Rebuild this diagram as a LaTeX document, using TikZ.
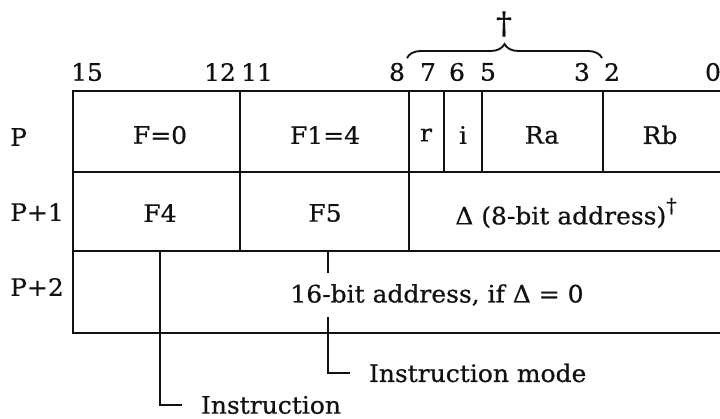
\documentclass[tikz,border=0pt]{standalone}
\usepackage{fontspec}
\setmainfont{DejaVu Serif}[FakeStretch=1.04, FakeBold=0.6]
\usetikzlibrary{decorations.pathreplacing,calc}
\definecolor{ink}{HTML}{111111}

\begin{document}
\begin{tikzpicture}[x=0.03cm, y=-0.03cm,
    rule/.style={ink, line width=1.2pt},
    txt/.style={ink, font=\fontsize{20.5}{24}\selectfont, inner sep=0pt},
    lead/.style={txt, anchor=west, inner xsep=16pt}]
    \useasboundingbox (0,0) rectangle (720,419);
    % frame and row rules
    \draw[rule] (721,91) -- (73,91) -- (73,333) -- (721,333);
    \foreach \ry in {172, 251} \draw[rule] (73,\ry) -- (721,\ry);
    \foreach \vx in {240, 409, 444, 482, 603} \draw[rule] (\vx,91) -- (\vx,172);
    \foreach \vx in {240, 409} \draw[rule] (\vx,172) -- (\vx,251);
    % bit numbers
    \foreach \bx/\bn in {87/15, 220/12, 257/11, 397/8, 428/7, 457/6, 488/5, 582/3, 612/2, 713/0}
      \node[txt] (b\bn) at (\bx,72) {\bn};
    % row names
    \foreach \ry/\rn/\rl in {137/p/P, 212/pa/P+1, 287/pb/P+2}
      \node[txt, anchor=west] (row\rn) at (10,\ry) {\rl};
    % fields
    \foreach \fx/\fy/\fn/\ft in {160/135/fop/F=0, 325/135/fone/F1=4, 426/135/fr/r, 463/135/fi/i,
        542/135/fra/Ra, 660/135/frb/Rb, 160/213/ffour/F4, 325/213/ffive/F5}
      \node[txt] (\fn) at (\fx,\fy) {\ft};
    \node[txt] (delta) at (566,213) {Δ (8-bit address)\raisebox{0.5em}{\fontsize{17}{18}\selectfont †}};
    \node[txt, inner ysep=9pt] (addr) at (437,295) {16-bit address, if Δ = 0};
    % brace over bits 8..3
    \coordinate (brL) at (407,58);
    \coordinate (brR) at (602,58);
    \draw[rule, line width=1.6pt, decorate, decoration={brace, amplitude=0.42cm}] (brL) -- (brR);
    \node[txt, font=\fontsize{26}{28}\selectfont] (dag) at (504,24) {†};
    % leaders
    \coordinate (insTop) at (160,251);
    \coordinate (modTop) at (328,251);
    \node[lead] (ins) at (182,405) {Instruction};
    \node[lead] (imode) at (350,373) {Instruction mode};
    \draw[rule] (insTop) |- (ins.west);
    \draw[rule] (modTop) -- (modTop |- addr.north);
    \draw[rule] (modTop |- addr.south) |- (imode.west);
\end{tikzpicture}
\end{document}
